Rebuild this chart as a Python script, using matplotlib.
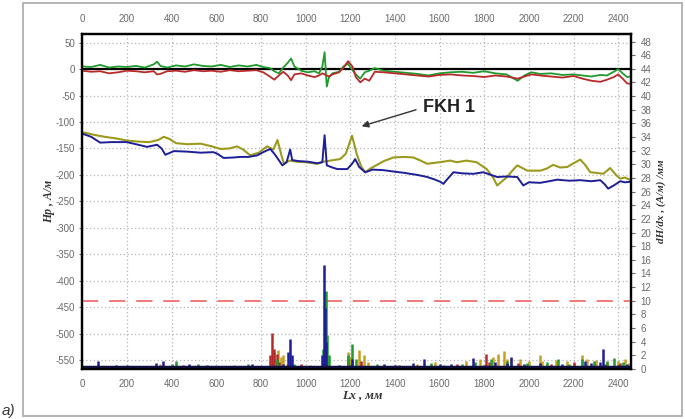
import matplotlib.pyplot as plt
from matplotlib.patches import Rectangle

# --- data ---
# upper pair of curves, left axis (Hp, A/m)
top_x = [0, 40, 80, 120, 160, 200, 240, 280, 320, 335, 350, 380, 420, 460, 500, 540,
         580, 620, 660, 700, 740, 780, 810, 840, 860, 880, 900, 920, 935, 950, 980, 1010,
         1040, 1060, 1075, 1085, 1095, 1105, 1120, 1150, 1170, 1190, 1210, 1225, 1245, 1265,
         1285, 1310, 1350, 1400, 1450, 1500, 1550, 1600, 1650, 1700, 1750, 1800, 1850, 1900,
         1950, 1980, 2010, 2050, 2100, 2150, 2200, 2240, 2280, 2320, 2350, 2380, 2400, 2420,
         2440, 2456]
green_y = [5, 4, 8, 3, 5, 4, 6, 3, 9, 14, 6, 3, 7, 5, 9, 6,
           5, 8, 4, 7, 5, 8, 4, 2, -4, -8, 3, 12, 20, 5, -3, -6,
           -4, -8, 5, 32, -33, -15, -8, -5, 5, 10, -2, -10, -18, -6,
           -3, 2, -3, -5, -7, -9, -12, -8, -6, -5, -7, -4, -8, -10,
           -22, -12, -6, -9, -8, -11, -10, -12, -14, -11, -12, -5, 0, -8,
           -15, -14]
red_y = [-3, -5, -4, -8, -6, -3, -4, -6, -4, -10, -9, -4, -3, -5, -2, -4,
         -3, -5, -2, -4, -3, -2, -6, -14, -20, -12, -5, -12, -21, -10, -8, -12,
         -15, -12, -8, -10, -12, -14, -10, -6, 3, 15, 5, -15, -25, -18,
         -22, -5, -6, -8, -10, -12, -14, -11, -10, -12, -13, -15, -12, -14,
         -18, -14, -10, -12, -14, -16, -13, -18, -22, -24, -20, -15, -10, -18,
         -27, -28]

# lower pair of curves, left axis
olive_x = [0, 50, 100, 150, 200, 250, 300, 340, 365, 390, 420, 470, 530, 580, 620, 660,
           693, 720, 752, 790, 828, 845, 856, 874, 890, 902, 930, 960, 1000, 1052, 1080,
           1110, 1155, 1180, 1208, 1230, 1250, 1267, 1290, 1320, 1350, 1393, 1440, 1482,
           1510, 1545, 1600, 1648, 1677, 1721, 1766, 1811, 1840, 1858, 1880, 1900, 1930,
           1948, 1993, 2051, 2080, 2109, 2140, 2172, 2200, 2230, 2250, 2275, 2300, 2333,
           2364, 2390, 2409, 2430, 2456]
olive_y = [-119, -124, -128, -131, -135, -137, -138, -134, -128, -132, -140, -142, -141, -146, -151, -150,
           -146, -152, -163, -158, -146, -150, -152, -134, -160, -178, -173, -175, -176, -179, -175,
           -173, -170, -160, -126, -162, -185, -195, -188, -181, -174, -167, -166, -167,
           -172, -179, -176, -173, -176, -173, -176, -189, -205, -220, -212, -205, -190,
           -182, -192, -192, -188, -181, -186, -185, -178, -171, -180, -195, -196, -198,
           -187, -200, -207, -205, -210]
blue_x = [0, 40, 80, 130, 200, 250, 290, 335, 355, 372, 410, 470, 530, 587, 605, 633,
          680, 707, 745, 783, 820, 842, 860, 880, 896, 915, 931, 940, 970, 1010, 1052,
          1075, 1085, 1095, 1120, 1142, 1187, 1210, 1222, 1240, 1267, 1300, 1348, 1400,
          1440, 1469, 1500, 1545, 1580, 1603, 1617, 1635, 1662, 1700, 1751, 1796, 1830,
          1858, 1900, 1948, 1975, 2000, 2051, 2090, 2127, 2180, 2230, 2280, 2320, 2340,
          2355, 2380, 2409, 2430, 2456]
blue_y = [-122, -128, -139, -138, -138, -143, -147, -143, -150, -162, -155, -156, -158, -157, -160, -168,
          -167, -166, -166, -163, -155, -151, -160, -172, -182, -176, -152, -172, -174, -175, -178,
          -176, -125, -182, -186, -189, -189, -178, -170, -185, -195, -190, -191, -194,
          -196, -198, -200, -204, -209, -213, -217, -208, -195, -197, -198, -195, -200,
          -204, -203, -204, -220, -214, -215, -212, -209, -211, -210, -212, -210, -218,
          -226, -220, -212, -214, -213]

# gradient spikes, right axis (dH/dx)
sp_blue_x = [60, 72, 85, 150, 230, 300, 330, 360, 380, 420, 480, 560, 640, 700, 760, 850,
             900, 920, 930, 940, 960, 1060, 1075, 1082, 1087, 1092, 1100, 1150, 1200, 1210,
             1300, 1350, 1400, 1450, 1480, 1530, 1540, 1600, 1650, 1700, 1750, 1760, 1800,
             1850, 1900, 1920, 1940, 1980, 2000, 2050, 2100, 2150, 2200, 2250, 2280, 2320,
             2330, 2340, 2400, 2440]
sp_blue_y = [0.4, 1.2, 0.3, 0.6, 0.5, 0.5, 0.9, 1.1, 0.4, 0.3, 0.7, 0.6, 0.5, 0.3, 0.7, 0.5,
             0.8, 2.5, 4.4, 2.0, 0.4, 0.3, 2.0, 15.2, 9.0, 4.0, 0.5, 0.6, 0.6, 1.4,
             0.3, 0.8, 0.6, 0.5, 0.9, 1.5, 0.4, 0.8, 0.7, 0.4, 1.6, 0.5, 0.6,
             1.0, 0.9, 1.8, 0.4, 0.8, 0.3, 0.9, 0.5, 0.7, 0.3, 1.2, 0.9, 1.0,
             3.0, 0.5, 0.6, 0.8]
sp_green_x = [100, 200, 400, 420, 520, 610, 740, 830, 870, 950, 1080, 1090, 1097, 1105,
              1190, 1210, 1225, 1320, 1560, 1620, 1700, 1760, 1830, 1900, 1990, 2080,
              2130, 2180, 2240, 2290, 2350, 2380, 2420]
sp_green_y = [0.5, 0.6, 0.8, 1.2, 0.8, 0.5, 0.7, 0.5, 1.5, 0.8, 3.0, 11.5, 5.0, 2.0,
              2.0, 3.7, 1.5, 0.7, 0.9, 0.6, 0.8, 1.0, 1.5, 1.1, 0.9, 1.0,
              1.5, 0.8, 1.4, 1.2, 1.1, 1.6, 1.0]
sp_red_x = [250, 450, 840, 850, 858, 870, 880, 980, 1190, 1250, 1420, 1680, 1810, 1820,
            1950, 2100, 2200, 2340, 2410]
sp_red_y = [0.5, 0.6, 2.0, 5.3, 3.0, 2.2, 1.0, 0.7, 1.5, 1.2, 0.6, 0.8, 2.2, 1.0,
            0.9, 0.7, 1.0, 0.8, 0.9]
sp_olive_x = [130, 350, 680, 860, 875, 890, 900, 915, 1020, 1190, 1200, 1240, 1260, 1280,
              1500, 1580, 1720, 1780, 1840, 1860, 1890, 1900, 1920, 1960, 2000, 2050, 2060,
              2120, 2170, 2240, 2260, 2300, 2350, 2400, 2430, 2450]
sp_olive_y = [0.5, 0.7, 0.6, 2.5, 2.8, 1.8, 2.0, 0.8, 0.6, 2.5, 1.8, 2.8, 2.0, 1.0,
              0.8, 1.0, 1.2, 1.4, 1.8, 2.2, 2.7, 1.5, 1.6, 1.5, 1.2, 2.0, 1.2,
              1.3, 1.1, 2.0, 1.5, 1.3, 1.0, 1.2, 1.5, 0.9]

threshold = 10
x_ticks = list(range(0, 2401, 200))
left_ticks = list(range(50, -551, -50))
right_ticks = list(range(0, 49, 2))

GREEN = '#1f9a2c'
RED = '#b82a2a'
OLIVE = '#9c9a1e'
BLUE = '#1e1e96'
TICK_C = '#6a6a6a'

fig = plt.figure(figsize=(6.85, 4.19), dpi=100)
W, H = 685, 419
ax = fig.add_axes([82.3 / W, 1 - 369 / H, (630.7 - 82.3) / W, (369 - 34) / H])
ax2 = ax.twinx()

ax.set_xlim(0, 2456)
ax.set_ylim(-567, 66.4)
ax2.set_ylim(0, 49.1)

ax.grid(True, ls=(0, (1, 2)), color='#b4b4b4', lw=0.9)
ax.axhline(0, color='black', lw=1.6, zorder=3)

ax.plot(top_x, green_y, color=GREEN, lw=1.3, zorder=4)
ax.plot(top_x, red_y, color=RED, lw=1.3, zorder=4)
ax.plot(olive_x, olive_y, color=OLIVE, lw=1.5, zorder=4)
ax.plot(blue_x, blue_y, color=BLUE, lw=1.4, zorder=4)

ax2.axhline(threshold, color='#ef7070', lw=1.3, dashes=(9, 6))
ax2.vlines(sp_olive_x, 0, sp_olive_y, color='#c8a020', lw=1.8)
ax2.vlines(sp_red_x, 0, sp_red_y, color=RED, lw=1.8)
ax2.vlines(sp_green_x, 0, sp_green_y, color=GREEN, lw=1.8)
ax2.vlines(sp_blue_x, 0, sp_blue_y, color=BLUE, lw=1.8)
ax2.axhline(0.25, color='#101040', lw=2.5)

for a in (ax, ax2):
    for s in a.spines.values():
        s.set_linewidth(1.6)
        s.set_color('black')

tick_font = dict(family='Liberation Sans', size=7)
ax.set_xticks(x_ticks)
ax.set_xticklabels([str(v) for v in x_ticks], color=TICK_C, **tick_font)
ax.set_yticks(left_ticks)
ax.set_yticklabels([str(v) for v in left_ticks], color=TICK_C, **tick_font)
ax2.set_yticks(right_ticks)
ax2.set_yticklabels([str(v) for v in right_ticks], color=TICK_C, **tick_font)
ax.tick_params(axis='x', top=True, labeltop=True, length=0, pad=7)
ax.tick_params(axis='y', length=2.5, color=TICK_C, pad=2.5)
ax2.tick_params(axis='y', length=3, color=TICK_C, pad=4)

ax.annotate('FKH 1', xy=(1251, -108), xytext=(1525, -73), ha='left', va='center',
            fontsize=13, fontweight='bold', family='Liberation Sans', color='#222222',
            arrowprops=dict(arrowstyle='-|>', color='#333333', lw=1.0,
                            relpos=(0, 0.5), shrinkA=3, shrinkB=0, mutation_scale=10),
            zorder=6)

lab_font = dict(family='Liberation Serif', style='italic', fontweight='bold', color='#333333')
fig.text(362 / W, 1 - 395 / H, 'Lx , мм', ha='center', va='center', fontsize=9, **lab_font)
fig.text(49 / W, 1 - 201 / H, 'Hр , А/м', ha='center', va='center', rotation=90,
         fontsize=8.5, **lab_font)
fig.text(661 / W, 1 - 201 / H, 'dH/dx , (А/м) /мм', ha='center', va='center', rotation=90,
         fontsize=8, **lab_font)

fig.patches.append(Rectangle((23 / W, 1 - 416 / H), (681.5 - 23) / W, (416 - 3.3) / H,
                             transform=fig.transFigure, fill=False, ec='#a8a8a8', lw=1.2))
fig.text(2 / W, 1 - 411 / H, 'a)', fontsize=11, style='italic', color='#333333',
         family='Liberation Sans', va='center')

fig.savefig('out.png', dpi=100)
